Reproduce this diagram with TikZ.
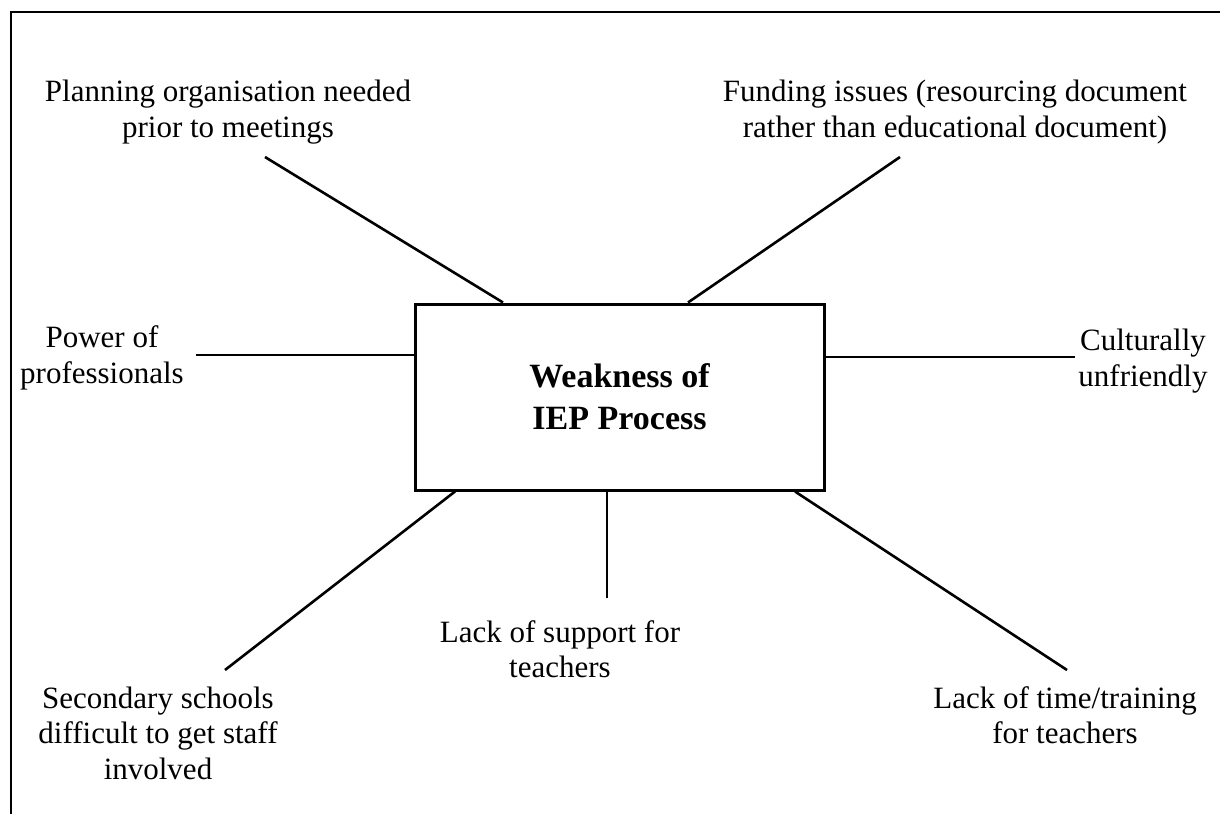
\documentclass[tikz,border=0pt]{standalone}
\usepackage{fontspec}
\setmainfont{Liberation Serif}
\begin{document}
\begin{tikzpicture}[x=1pt,y=-1pt,
  label/.style={align=center,inner sep=0pt,font=\fontsize{31}{35.5}\selectfont},
  spoke/.style={line width=2.6pt},
  hub/.style={draw,line width=3pt,minimum width=409pt,minimum height=186pt,inner sep=0pt,
    align=center,font=\fontsize{34}{42}\selectfont\bfseries}]
\useasboundingbox (0,0) rectangle (1220,814);
% open frame
\draw[line width=2.4pt] (11,814) -- (11,12) -- (1220,12);
% central box
\node[hub] (c) at (619.5,397) {Weakness of\\IEP Process};
% labels
\node[label] (plan) at (228,112) {Planning organisation needed\\prior to meetings};
\node[label] (fund) at (955,112) {Funding issues (resourcing document\\rather than educational document)};
\node[label] (power) at (102,358) {Power of\\professionals};
\node[label] (cult) at (1143,361) {Culturally\\unfriendly};
\node[label] (sec) at (158,733) {Secondary schools\\difficult to get staff\\involved};
\node[label] (supp) at (560,649) {Lack of support for\\teachers};
\node[label] (time) at (1065,715) {Lack of time/training\\for teachers};
% free ends of the spokes
\coordinate (pe) at (265,157);
\coordinate (fe) at (900,157);
\coordinate (we) at (196,355);
\coordinate (ce) at (1075,357);
\coordinate (se) at (225,670);
\coordinate (le) at (607,598);
\coordinate (te) at (1067,670);
% spokes
\draw[spoke] (pe) -- (c.north west -| 503,0);
\draw[spoke] (fe) -- (c.north west -| 688,0);
\draw[spoke] (we) -- (c.west |- we);
\draw[spoke] (ce) -- (c.east |- ce);
\draw[spoke] (se) -- (c.south west -| 455,0);
\draw[spoke] (le) -- (c.south west -| le);
\draw[spoke] (te) -- (c.south west -| 795,0);
\end{tikzpicture}
\end{document}
